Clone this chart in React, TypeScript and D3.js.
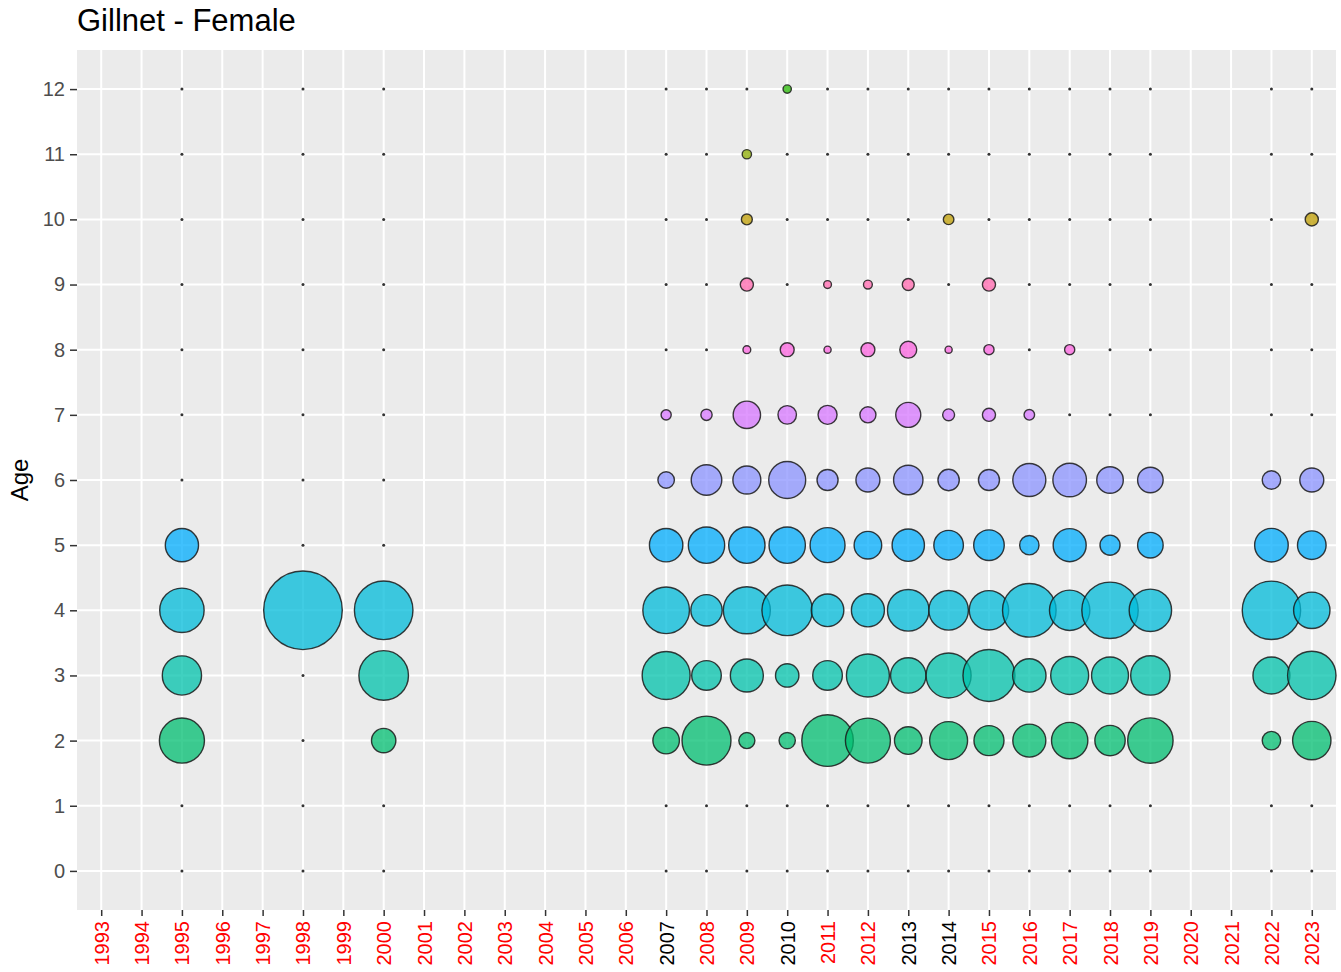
import React, { useEffect, useRef } from "react";
import * as d3 from "d3";

// x categories (all years on the axis)
const years = [
  "1993", "1994", "1995", "1996", "1997", "1998", "1999", "2000", "2001", "2002",
  "2003", "2004", "2005", "2006", "2007", "2008", "2009", "2010", "2011", "2012",
  "2013", "2014", "2015", "2016", "2017", "2018", "2019", "2020", "2021", "2022", "2023",
];
// years whose tick label is black (the rest are red)
const blackLabelYears = ["2007", "2010", "2013", "2014"];

// y ticks
const ages = [0, 1, 2, 3, 4, 5, 6, 7, 8, 9, 10, 11, 12];

// years with samples
const sampledYears = [
  "1995", "1998", "2000", "2007", "2008", "2009", "2010", "2011", "2012",
  "2013", "2014", "2015", "2016", "2017", "2018", "2019", "2022", "2023",
];

// proportion at age, one value per sampled year
const age0 = [0, 0, 0, 0, 0, 0, 0, 0, 0, 0, 0, 0, 0, 0, 0, 0, 0, 0];
const age1 = [0, 0, 0, 0, 0, 0, 0, 0, 0, 0, 0, 0, 0, 0, 0, 0, 0, 0];
const age2 = [0.31, 0, 0.08, 0.097, 0.37, 0.03, 0.031, 0.413, 0.309, 0.106, 0.214, 0.128, 0.158, 0.195, 0.131, 0.315, 0.042, 0.219];
const age3 = [0.23, 0, 0.38, 0.354, 0.124, 0.158, 0.073, 0.124, 0.28, 0.184, 0.309, 0.42, 0.162, 0.214, 0.202, 0.232, 0.202, 0.361];
const age4 = [0.3, 1.0, 0.54, 0.333, 0.141, 0.339, 0.396, 0.153, 0.158, 0.261, 0.234, 0.232, 0.448, 0.245, 0.499, 0.272, 0.537, 0.195];
const age5 = [0.16, 0, 0, 0.162, 0.195, 0.195, 0.195, 0.179, 0.106, 0.151, 0.124, 0.133, 0.047, 0.158, 0.051, 0.089, 0.164, 0.115];
const age6 = [0, 0, 0, 0.032, 0.133, 0.109, 0.202, 0.057, 0.077, 0.122, 0.059, 0.057, 0.158, 0.164, 0.097, 0.089, 0.042, 0.077];
const age7 = [0, 0, 0, 0.009, 0.012, 0.104, 0.042, 0.045, 0.03, 0.085, 0.014, 0.018, 0.01, 0, 0, 0, 0, 0];
const age8 = [0, 0, 0, 0, 0, 0.004, 0.021, 0.003, 0.021, 0.034, 0.003, 0.009, 0, 0.009, 0, 0, 0, 0];
const age9 = [0, 0, 0, 0, 0, 0.018, 0, 0.004, 0.006, 0.014, 0, 0.018, 0, 0, 0, 0, 0, 0];
const age10 = [0, 0, 0, 0, 0, 0.011, 0, 0, 0, 0, 0.01, 0, 0, 0, 0, 0, 0, 0.018];
const age11 = [0, 0, 0, 0, 0, 0.007, 0, 0, 0, 0, 0, 0, 0, 0, 0, 0, 0, 0];
const age12 = [0, 0, 0, 0, 0, 0, 0.005, 0, 0, 0, 0, 0, 0, 0, 0, 0, 0, 0];

const ageSeries = [age0, age1, age2, age3, age4, age5, age6, age7, age8, age9, age10, age11, age12];

// ggplot hue palette, levels in character order "0","1","10","11","12","2",...,"9"
const ageLevels = ["0", "1", "10", "11", "12", "2", "3", "4", "5", "6", "7", "8", "9"];
const huePalette = [
  "#F8766D", "#E18A00", "#BE9C00", "#8CAB00", "#24B700", "#00BE70", "#00C1AB",
  "#00BBDA", "#00ACFC", "#8B93FF", "#D575FE", "#F962DD", "#FF65AC",
];

type Point = { year: string; age: number; p: number };

const App: React.FC = () => {
  const chartRef = useRef<SVGSVGElement>(null);

  useEffect(() => {
    document.body.style.margin = "0";
    const width = 1341;
    const height = 972;
    const panel = { left: 77, right: 1336, top: 50, bottom: 910 };
    const font = "'Liberation Sans', Arial, sans-serif";

    const x = d3.scalePoint<string>().domain(years).range([panel.left, panel.right]).padding(0.6);
    const y = d3.scaleLinear().domain([-0.6, 12.6]).range([panel.bottom, panel.top]);
    const r = d3.scaleSqrt().domain([0, 1]).range([1.5, 39.3]);
    const color = d3.scaleOrdinal<string, string>().domain(ageLevels).range(huePalette);

    const points: Point[] = [];
    sampledYears.forEach((yr, i) => {
      ages.forEach((a, j) => points.push({ year: yr, age: a, p: ageSeries[j][i] }));
    });

    const svg = d3.select(chartRef.current);
    svg.selectAll("*").remove();
    svg.attr("width", width).attr("height", height).style("display", "block").style("background", "#fff");

    // panel
    svg
      .append("rect")
      .attr("x", panel.left)
      .attr("y", panel.top)
      .attr("width", panel.right - panel.left)
      .attr("height", panel.bottom - panel.top)
      .attr("fill", "#EBEBEB");

    // grid
    svg
      .append("g")
      .selectAll("line")
      .data(years)
      .enter()
      .append("line")
      .attr("x1", (d) => x(d)!)
      .attr("x2", (d) => x(d)!)
      .attr("y1", panel.top)
      .attr("y2", panel.bottom)
      .attr("stroke", "#fff")
      .attr("stroke-width", 2);

    svg
      .append("g")
      .selectAll("line")
      .data(ages)
      .enter()
      .append("line")
      .attr("x1", panel.left)
      .attr("x2", panel.right)
      .attr("y1", (d) => y(d))
      .attr("y2", (d) => y(d))
      .attr("stroke", "#fff")
      .attr("stroke-width", 2);

    // bubbles
    svg
      .append("g")
      .selectAll("circle")
      .data(points)
      .enter()
      .append("circle")
      .attr("cx", (d) => x(d.year)!)
      .attr("cy", (d) => y(d.age))
      .attr("r", (d) => r(d.p))
      .attr("fill", (d) => (d.p > 0 ? color(String(d.age)) : "#333"))
      .attr("fill-opacity", (d) => (d.p > 0 ? 0.75 : 1))
      .attr("stroke", "#1a1a1a")
      .attr("stroke-opacity", (d) => (d.p > 0 ? 0.85 : 0))
      .attr("stroke-width", 1.4);

    // x axis
    const xAxis = svg
      .append("g")
      .attr("transform", `translate(0,${panel.bottom})`)
      .call(d3.axisBottom(x).tickSizeOuter(0).tickSizeInner(6).tickPadding(4));
    xAxis.select(".domain").remove();
    xAxis.selectAll(".tick line").attr("stroke", "#333").attr("stroke-width", 1.5);
    xAxis
      .selectAll<SVGTextElement, string>(".tick text")
      .attr("transform", "rotate(-90)")
      .attr("x", -11)
      .attr("y", 0)
      .attr("dy", "0.35em")
      .style("text-anchor", "end")
      .style("font-family", font)
      .style("font-size", "20px")
      .attr("fill", (d) => (blackLabelYears.includes(d) ? "#000" : "#FF0000"));

    // y axis
    const yAxis = svg
      .append("g")
      .attr("transform", `translate(${panel.left},0)`)
      .call(d3.axisLeft(y).tickValues(ages).tickFormat(d3.format("d")).tickSizeOuter(0).tickSizeInner(7).tickPadding(5));
    yAxis.select(".domain").remove();
    yAxis.selectAll(".tick line").attr("stroke", "#333").attr("stroke-width", 1.5);
    yAxis
      .selectAll(".tick text")
      .style("font-family", font)
      .style("font-size", "20px")
      .attr("fill", "#4D4D4D");

    // y title
    svg
      .append("text")
      .attr("transform", `translate(28,${(panel.top + panel.bottom) / 2}) rotate(-90)`)
      .attr("text-anchor", "middle")
      .style("font-family", font)
      .style("font-size", "24px")
      .attr("fill", "#000")
      .text("Age");

    // title
    svg
      .append("text")
      .attr("x", panel.left)
      .attr("y", 31)
      .style("font-family", font)
      .style("font-size", "31px")
      .attr("fill", "#000")
      .text("Gillnet - Female");
  }, []);

  return <svg ref={chartRef}></svg>;
};

export default App;
